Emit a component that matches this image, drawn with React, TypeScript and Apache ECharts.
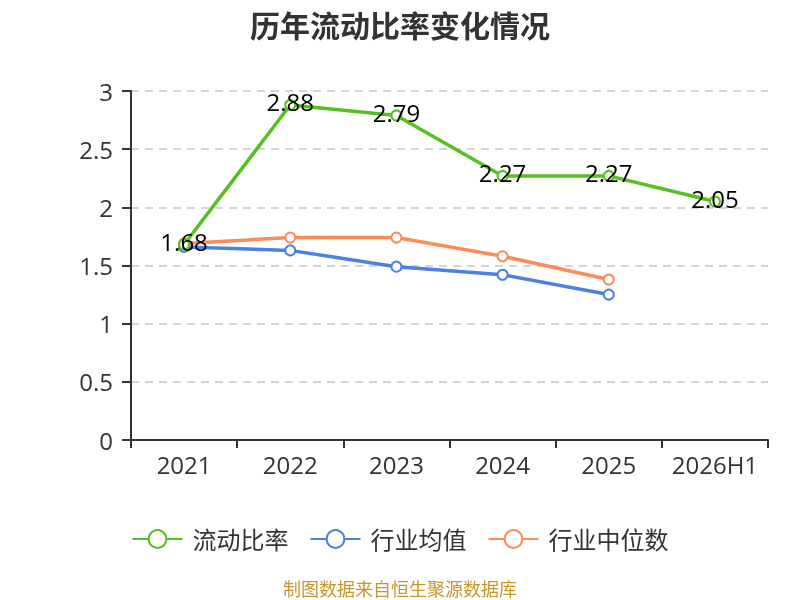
import React, { useEffect, useRef } from "react";
import * as echarts from "echarts";

const categories = ["2021", "2022", "2023", "2024", "2025", "2026H1"];
const currentRatio = [1.68, 2.88, 2.79, 2.27, 2.27, 2.05];
const industryAvg = [1.66, 1.63, 1.49, 1.42, 1.25, null];
const industryMedian = [1.69, 1.74, 1.74, 1.58, 1.38, null];
const yTicks = [0, 0.5, 1, 1.5, 2, 2.5, 3];

const FONT = "'Open Sans', 'Noto Sans CJK SC', sans-serif";

export default function App() {
  const ref = useRef<HTMLDivElement>(null);
  useEffect(() => {
    if (!ref.current) return;
    const chart = echarts.init(ref.current, undefined, { renderer: "svg" });
    const mk = (name: string, data: any[], color: string, label: boolean) => ({
      name,
      type: "line",
      data,
      symbol: "emptyCircle",
      symbolSize: 10,
      lineStyle: { width: 3.5, color },
      itemStyle: { color, borderWidth: 2 },
      label: label
        ? {
            show: true,
            position: "inside",
            offset: [0, -3],
            color: "#000",
            fontSize: 24,
            fontFamily: FONT,
          }
        : { show: false },
      z: label ? 3 : 2,
    });
    chart.setOption({
      animation: false,
      textStyle: { fontFamily: FONT },
      title: {
        text: "历年流动比率变化情况",
        left: "center",
        top: 5,
        textStyle: { fontSize: 30, fontWeight: "bold", color: "#333", fontFamily: FONT },
      },
      legend: {
        top: 522,
        left: "center",
        itemWidth: 50,
        itemHeight: 22,
        itemGap: 21,
        textStyle: { fontSize: 24, color: "#333", fontFamily: FONT, padding: [0, 0, 0, 5] },
        data: ["流动比率", "行业均值", "行业中位数"],
      },
      grid: { left: 131, right: 32, top: 91, bottom: 160 },
      xAxis: {
        type: "category",
        data: categories,
        boundaryGap: true,
        axisLine: { lineStyle: { color: "#333", width: 2 } },
        axisTick: { show: true, length: 8, interval: 0, lineStyle: { color: "#333", width: 2 } },
        axisLabel: { fontSize: 24, color: "#333", margin: 12, interval: 0, fontFamily: FONT },
      },
      yAxis: {
        type: "value",
        min: yTicks[0],
        max: yTicks[yTicks.length - 1],
        interval: 0.5,
        axisLine: { show: true, lineStyle: { color: "#333", width: 2 } },
        axisTick: { show: true, length: 9, lineStyle: { color: "#333", width: 2 } },
        axisLabel: { fontSize: 24, color: "#333", margin: 18, fontFamily: FONT },
        splitLine: { lineStyle: { type: [8, 6], color: "#c8c8c8", width: 1.5 } },
      },
      series: [
        mk("流动比率", currentRatio, "#56c11e", true),
        mk("行业均值", industryAvg, "#4c80e4", false),
        mk("行业中位数", industryMedian, "#fc8b57", false),
      ],
      graphic: [
        {
          type: "text",
          left: "center",
          top: 580,
          style: {
            text: "制图数据来自恒生聚源数据库",
            fill: "#c8962a",
            fontSize: 18,
            fontFamily: FONT,
          },
        },
      ],
    });
    return () => chart.dispose();
  }, []);
  return (
    <div
      ref={ref}
      style={{ position: "fixed", left: 0, top: 0, width: 800, height: 600 }}
    />
  );
}
